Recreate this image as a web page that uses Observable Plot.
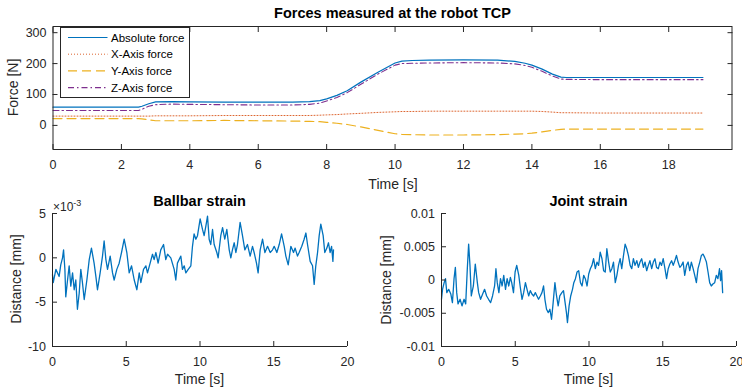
<!DOCTYPE html>
<html><head><meta charset="utf-8">
<script src="https://cdn.jsdelivr.net/npm/d3@7"></script>
<script src="https://cdn.jsdelivr.net/npm/@observablehq/plot@0.6"></script>
<style>
body{margin:0;background:#fff;}
#wrap{position:relative;width:742px;height:392px;overflow:hidden;background:#fff;}
</style></head><body><div id="wrap"></div>
<script>
// ---------- Top: forces ----------
const tForce = [0, 2.5, 2.6, 2.8, 3, 3.5, 4, 5, 6, 7, 7.5, 7.8, 8, 8.3, 8.6, 9, 9.5, 10, 10.2, 10.5, 11, 12, 13, 13.5, 13.8, 14, 14.3, 14.6, 14.85, 15, 16, 17, 18, 19];
const absForce = [59,59,62,70,76,77,76,75,75,75, 77,80,86,97,112,140,172,202,208,210, 211,212,211,207,201,195,182,166,156,155, 155,155,155,155];
const xForce = [30,30,30,30,31,31,31,32,32,32, 32,33,34,35,37,39,42,44,45,45, 46,46,46,46,46,46,45,43,41,41, 40,40,40,40];
const yForce = [22,22,21,18,15,15,15,16,15,14, 13,12,10,7,3,-5,-16,-27,-29,-30, -31,-31,-30,-28,-27,-25,-21,-16,-13,-12, -12,-12,-12,-12];
const zForce = [48,48,52,62,67,69,68,67,66,66, 68,72,79,90,106,133,166,195,200,201, 202,203,202,199,194,188,175,160,150,149, 148,148,148,148];
const forceXTicks = [0,2,4,6,8,10,12,14,16,18];
const forceYTicks = [0,100,200,300];
const legendLabels = ["Absolute force","X-Axis force","Y-Axis force","Z-Axis force"];

// ---------- Bottom left: ballbar strain (x 1e-3 mm) ----------
const tBall = [0.00,0.05,0.23,0.45,0.56,0.68,0.75,0.84,0.90,1.02,
1.13,1.24,1.36,1.47,1.58,1.69,1.81,1.92,2.03,2.15,
2.33,2.49,2.64,2.82,2.94,3.05,3.23,3.39,3.50,3.62,
3.73,3.91,4.07,4.18,4.36,4.52,4.68,4.86,5.04,5.20,
5.36,5.54,5.72,5.88,5.99,6.17,6.33,6.44,6.62,6.78,
6.89,7.01,7.16,7.34,7.53,7.68,7.80,8.02,8.25,8.36,
8.47,8.70,8.81,8.93,9.04,9.20,9.38,9.49,9.60,9.72,
9.83,10.01,10.17,10.28,10.40,10.51,10.62,10.73,10.85,10.96,
11.14,11.23,11.41,11.53,11.68,11.82,11.98,12.09,12.20,12.32,
12.43,12.54,12.72,12.88,13.04,13.22,13.40,13.56,13.67,13.83,
13.94,14.08,14.24,14.40,14.58,14.76,14.92,15.03,15.21,15.37,
15.53,15.71,15.82,15.98,16.16,16.34,16.45,16.61,16.72,16.90,
17.06,17.18,17.29,17.47,17.63,17.74,17.85,17.97,18.08,18.19,
18.35,18.46,18.60,18.71,18.82,18.92,19.01,19.05];
const vBall = [-1.9,-2.8,-1.3,-2.1,-0.8,0,0.9,-1.3,-4.4,-2.5,
-0.9,-3.2,-1.7,-3.6,-2.5,-5.8,-4.0,-1.3,-2.8,-4.7,
-2.5,-0.2,1.1,-0.6,-2.1,-3.6,-1.7,0.2,1.9,-0.2,
-1.3,0.2,-1.7,-2.5,-1.3,-0.6,0.6,2.1,0.6,-1.7,
-0.9,-2.5,-3.6,-1.7,-2.8,-1.3,-0.9,-1.7,-0.6,0.4,
-0.2,0.6,-0.6,0.9,1.5,-0.2,0.4,0,-1.3,-2.5,
-0.6,0.2,-1.3,-0.9,-1.7,-1.3,-0.9,1.3,2.7,2.1,
2.5,4.4,3.2,2.5,3.6,4.7,2.1,1.5,3.2,1.5,
0.6,0,2.5,3.4,2.1,3.2,0.9,0,0.9,1.7,
0.6,1.5,4.0,2.5,0.9,1.5,0.2,1.3,0.6,-0.6,
-1.7,0.9,2.1,0.6,1.3,0.6,0.9,1.3,0.6,1.5,
2.7,1.3,0.2,-0.8,1.3,0.6,1.1,0.2,0.6,1.3,
2.1,2.8,1.5,-0.4,-0.9,-3.0,-0.9,0.6,2.5,3.8,
2.5,0.6,1.1,1.7,0.6,1.3,-0.4,0.9];
const strainXTicks = [0,5,10,15,20];
const ballYTicks = [-10,-5,0,5];
const ballYTickLabels = ["-10","-5","0","5"];

// ---------- Bottom right: joint strain (x 1e-3 mm) ----------
const tJoint = [0.00,0.07,0.18,0.27,0.36,0.49,0.63,0.74,0.85,0.94,
1.03,1.12,1.26,1.39,1.53,1.64,1.75,1.84,1.93,2.02,
2.16,2.29,2.43,2.52,2.65,2.79,2.92,3.06,3.19,3.33,
3.46,3.60,3.69,3.78,3.89,4.00,4.11,4.22,4.34,4.45,
4.56,4.67,4.76,4.88,4.99,5.10,5.24,5.33,5.46,5.57,
5.69,5.82,5.91,6.02,6.13,6.25,6.36,6.47,6.58,6.70,
6.81,6.92,7.01,7.12,7.24,7.35,7.46,7.57,7.69,7.80,
7.91,8.02,8.16,8.27,8.38,8.47,8.54,8.65,8.76,8.88,
8.97,9.08,9.19,9.30,9.42,9.53,9.64,9.75,9.87,9.98,
10.09,10.20,10.31,10.43,10.54,10.65,10.76,10.88,10.99,11.10,
11.21,11.33,11.44,11.55,11.66,11.78,11.89,12.00,12.11,12.22,
12.34,12.45,12.56,12.67,12.79,12.90,13.01,13.12,13.24,13.35,
13.46,13.57,13.69,13.80,13.91,14.02,14.13,14.25,14.36,14.47,
14.58,14.70,14.81,14.92,15.03,15.15,15.26,15.37,15.48,15.60,
15.71,15.82,15.93,16.04,16.16,16.27,16.38,16.49,16.61,16.72,
16.83,16.94,17.06,17.17,17.28,17.39,17.51,17.62,17.73,17.84,
17.96,18.07,18.18,18.29,18.40,18.52,18.63,18.74,18.85,18.92,
18.99,19.06];
const vJoint = [-2.9,-1.4,-0.4,0.2,-1.9,-1.4,-2.1,-3.4,0.2,1.9,
-1.9,-3.6,-2.9,-3.9,-2.9,-3.6,1.7,5.4,2.2,-2.4,
-0.9,2.4,-0.4,-1.9,-2.9,-2.1,-1.4,-2.4,-2.9,-3.4,
-2.4,-0.9,1.7,-0.4,-1.9,0.2,-0.9,0.7,-1.4,0.2,
-0.9,0.4,-0.4,-1.9,1.2,2.2,0.7,-0.9,-2.9,-1.9,
-0.4,-1.6,-2.4,-1.6,-2.1,-2.4,-1.9,-2.4,-2.9,-2.4,
-1.9,-0.9,-2.9,-4.4,-4.9,-4.4,-5.9,-3.4,-0.4,-2.4,
-3.9,-2.4,-1.9,-1.6,-3.4,-4.9,-6.4,-3.9,-2.4,-1.4,
-0.4,0.2,1.2,1.4,-0.4,-0.9,0.7,0.2,-0.9,0.9,
1.7,2.2,3.2,1.7,2.7,2.2,4.2,3.2,1.4,1.2,
4.7,2.7,1.2,1.7,2.7,-0.4,0.7,2.2,3.2,1.7,
3.7,5.4,4.7,3.7,2.2,1.7,3.2,2.2,2.9,1.9,
2.7,3.2,1.9,2.7,1.4,2.2,2.9,1.7,2.7,3.2,
1.9,1.7,2.7,2.2,3.2,1.7,0.2,1.7,2.4,2.9,
2.2,2.9,3.7,2.7,1.9,2.2,2.7,0.7,2.2,2.7,
1.4,2.7,1.7,0.7,-0.4,1.7,2.7,3.7,3.9,3.4,
2.7,1.2,-0.4,-0.9,-0.6,-0.4,0.7,0.2,1.7,-0.1,
1.4,-1.9];
const jointYTicks = [-10,-5,0,5,10];
const jointYTickLabels = ["-0.01","-0.005","0","0.005","0.01"];

// ---------- styling ----------
const FONT = '"Liberation Sans", Arial, Helvetica, sans-serif';
const AX = "#262626";
const C = {abs:"#0072BD", x:"#D95319", y:"#EDB120", z:"#7E2F8E"};
const dash = {abs:null, x:"1,2", y:"9,5", z:"6,3,1.5,3"};
const widths = {abs:1.2, x:0.9, y:1.2, z:1.1};
const baseStyle = {fontFamily: FONT, fontSize: "12.5px", color: AX, background: "transparent", overflow: "visible"};
const wrap = document.getElementById("wrap");
function place(svg, left, topPx) {
  svg.style.position = "absolute";
  svg.style.left = left + "px";
  svg.style.top = topPx + "px";
  wrap.appendChild(svg);
}

const forceRows = tForce.map((t, i) => ({t, abs: absForce[i], x: xForce[i], y: yForce[i], z: zForce[i]}));
const blank = () => "";

const forcePlot = Plot.plot({
  width: 742, height: 192,
  marginLeft: 52.5, marginRight: 10.5, marginTop: 26, marginBottom: 43,
  x: {domain: [0, 19.85]}, y: {domain: [-78, 320]},
  style: baseStyle,
  marks: [
    Plot.axisX(forceXTicks, {anchor: "bottom", tickSize: -5, tickPadding: 15.5, label: null, tickFormat: d => String(d)}),
    Plot.axisX(forceXTicks, {anchor: "top", tickSize: -5, label: null, tickFormat: blank}),
    Plot.axisY(forceYTicks, {anchor: "left", tickSize: -5, tickPadding: 11.5, label: null, tickFormat: d => String(d)}),
    Plot.axisY(forceYTicks, {anchor: "right", tickSize: -5, label: null, tickFormat: blank}),
    Plot.lineY(forceRows, {x: "t", y: "x", stroke: C.x, strokeWidth: widths.x, strokeDasharray: dash.x}),
    Plot.lineY(forceRows, {x: "t", y: "y", stroke: C.y, strokeWidth: widths.y, strokeDasharray: dash.y}),
    Plot.lineY(forceRows, {x: "t", y: "z", stroke: C.z, strokeWidth: widths.z, strokeDasharray: dash.z}),
    Plot.lineY(forceRows, {x: "t", y: "abs", stroke: C.abs, strokeWidth: widths.abs}),
    Plot.frame({stroke: AX, strokeWidth: 1})
  ]
});
place(forcePlot, 0, 0);

const ballRows = tBall.map((t, i) => ({t, v: vBall[i]}));
const ballPlot = Plot.plot({
  width: 371, height: 200,
  marginLeft: 52, marginRight: 24, marginTop: 21, marginBottom: 46,
  x: {domain: [0, 20]}, y: {domain: [-10, 5]},
  style: baseStyle,
  marks: [
    Plot.lineY(ballRows, {x: "t", y: "v", stroke: C.abs, strokeWidth: 1.3}),
    Plot.ruleX([0], {stroke: AX}),
    Plot.ruleY([-10], {stroke: AX}),
    Plot.axisX(strainXTicks, {anchor: "bottom", tickSize: -5, tickPadding: 15.5, label: null, tickFormat: d => String(d)}),
    Plot.axisY(ballYTicks, {anchor: "left", tickSize: -5, tickPadding: 11.5, label: null, tickFormat: d => ballYTickLabels[ballYTicks.indexOf(d)]})
  ]
});
place(ballPlot, 0, 192);

const jointRows = tJoint.map((t, i) => ({t, v: vJoint[i]}));
const jointPlot = Plot.plot({
  width: 371, height: 200,
  marginLeft: 70, marginRight: 6, marginTop: 21, marginBottom: 46,
  x: {domain: [0, 20]}, y: {domain: [-10, 10]},
  style: baseStyle,
  marks: [
    Plot.lineY(jointRows, {x: "t", y: "v", stroke: C.abs, strokeWidth: 1.3}),
    Plot.ruleX([0], {stroke: AX}),
    Plot.ruleY([-10], {stroke: AX}),
    Plot.axisX(strainXTicks, {anchor: "bottom", tickSize: -5, tickPadding: 15.5, label: null, tickFormat: d => String(d)}),
    Plot.axisY(jointYTicks, {anchor: "left", tickSize: -5, tickPadding: 11.5, label: null, tickFormat: d => jointYTickLabels[jointYTicks.indexOf(d)]})
  ]
});
place(jointPlot, 371, 192);

// ---------- legend ----------
const keys = ["abs", "x", "y", "z"];
const lg = d3.select(wrap).append("svg")
  .attr("width", 131).attr("height", 72)
  .style("position", "absolute").style("left", "60px").style("top", "26.5px");
lg.append("rect").attr("x", 0.5).attr("y", 0.5).attr("width", 129).attr("height", 70)
  .attr("fill", "white").attr("stroke", AX).attr("stroke-width", 1);
legendLabels.forEach((lab, i) => {
  const cy = 10.5 + i * 16.7;
  const ln = lg.append("line").attr("x1", 8).attr("x2", 47.5).attr("y1", cy).attr("y2", cy)
    .style("stroke", C[keys[i]]).style("stroke-width", widths[keys[i]]);
  if (dash[keys[i]]) ln.style("stroke-dasharray", dash[keys[i]]);
  lg.append("text").attr("x", 51).attr("y", cy + 4.1).text(lab)
    .attr("font-family", FONT).attr("font-size", "11.5px").attr("fill", "#000");
});

// ---------- titles & axis labels ----------
const ov = d3.select(wrap).append("svg")
  .attr("width", 742).attr("height", 392)
  .style("position", "absolute").style("left", "0px").style("top", "0px")
  .style("pointer-events", "none");
function txt(x, y, s, {size = 14, weight = "normal", fill = AX, rotate = 0} = {}) {
  const t = ov.append("text").attr("text-anchor", "middle")
    .attr("font-family", FONT).attr("font-size", size + "px").attr("font-weight", weight)
    .attr("fill", fill).text(s);
  if (rotate) t.attr("transform", `translate(${x},${y}) rotate(${rotate})`);
  else t.attr("x", x).attr("y", y);
  return t;
}
txt(392.5, 18, "Forces measured at the robot TCP", {size: 14.5, weight: "bold", fill: "#000"});
txt(393, 188.5, "Time [s]");
txt(17.5, 87.5, "Force [N]", {rotate: -90});
txt(199.5, 205.5, "Ballbar strain", {size: 14.5, weight: "bold", fill: "#000"});
txt(199.5, 384, "Time [s]");
txt(21, 279, "Distance [mm]", {rotate: -90});
txt(588.5, 205.5, "Joint strain", {size: 14.5, weight: "bold", fill: "#000"});
txt(588.5, 384, "Time [s]");
txt(391, 280, "Distance [mm]", {rotate: -90});
const ex = ov.append("text").attr("x", 53).attr("y", 210.5)
  .attr("font-family", FONT).attr("font-size", "12px").attr("fill", AX);
ex.append("tspan").text("\u00d710");
ex.append("tspan").attr("dy", -5).attr("font-size", "9px").text("-3");
</script>
</body></html>
